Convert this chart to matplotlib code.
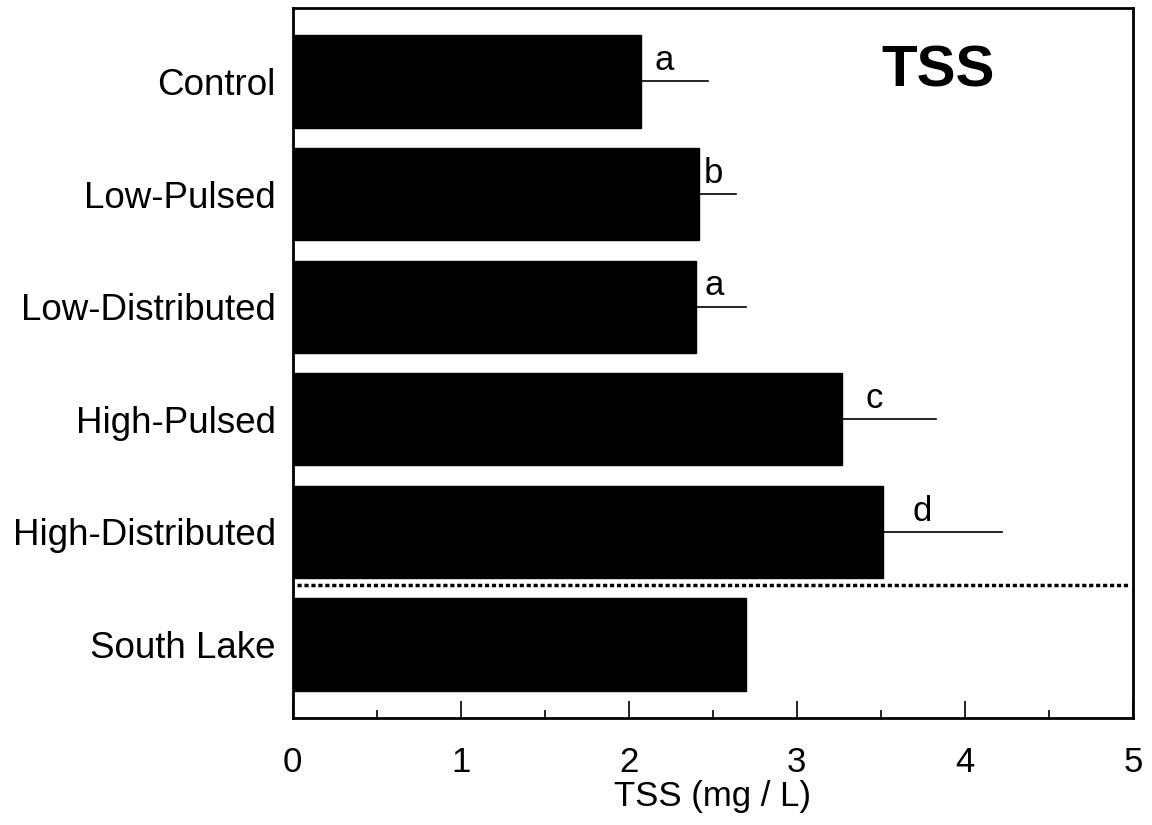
import matplotlib
matplotlib.use("Agg")
import matplotlib.pyplot as plt
from matplotlib import font_manager

categories = ["Control", "Low-Pulsed", "Low-Distributed", "High-Pulsed",
              "High-Distributed", "South Lake"]
tss_values = [2.07, 2.42, 2.40, 3.27, 3.51, 2.70]
tss_errors = [0.40, 0.22, 0.30, 0.56, 0.71, 0.0]
sig_letters = ["a", "b", "a", "c", "d", ""]
x_ticks = [0, 1, 2, 3, 4, 5]

names = {f.name for f in font_manager.fontManager.ttflist}
fam = "Liberation Sans" if "Liberation Sans" in names else "DejaVu Sans"
plt.rcParams['font.family'] = [fam, 'DejaVu Sans']

fig = plt.figure(figsize=(11.52, 8.25), dpi=100)
ax = fig.add_axes([0.254, 0.130, 0.7295, 0.860])

ypos = list(range(len(categories)))
ax.barh(ypos, tss_values, height=0.82, color="black", edgecolor="black")
for y, v, e, lab in zip(ypos, tss_values, tss_errors, sig_letters):
    if e > 0:
        ax.plot([v, v + e], [y, y], color="black", lw=1.2)
    if lab:
        ax.text(v + 0.3 * e + 0.02, y - 0.1, lab, fontsize=25,
                ha="center", va="baseline")

ax.axhline(4.47, color="black", lw=2.5, ls=(0, (1.2, 0.8)), xmin=0.005, xmax=0.995)

ax.text(3.84, -0.09, "TSS", fontsize=42, fontweight="bold", ha="center", va="center")

ax.set_xlim(0, 5)
ax.set_ylim(5.65, -0.65)
ax.set_yticks(ypos)
ax.set_yticklabels(categories, fontsize=26.5)
ax.tick_params(axis="y", length=0, pad=12)
ax.set_xticks(x_ticks)
ax.set_xticklabels([str(t) for t in x_ticks], fontsize=25)
ax.set_xticks([0.5, 1.5, 2.5, 3.5, 4.5], minor=True)
ax.tick_params(axis="x", which="major", direction="in", length=12, width=1.2, pad=20.5)
ax.tick_params(axis="x", which="minor", direction="in", length=6, width=1.2)
ax.set_xlabel("TSS (mg / L)", fontsize=25, labelpad=0.5)
for s in ax.spines.values():
    s.set_linewidth(2)

fig.savefig("out.png", dpi=100)
